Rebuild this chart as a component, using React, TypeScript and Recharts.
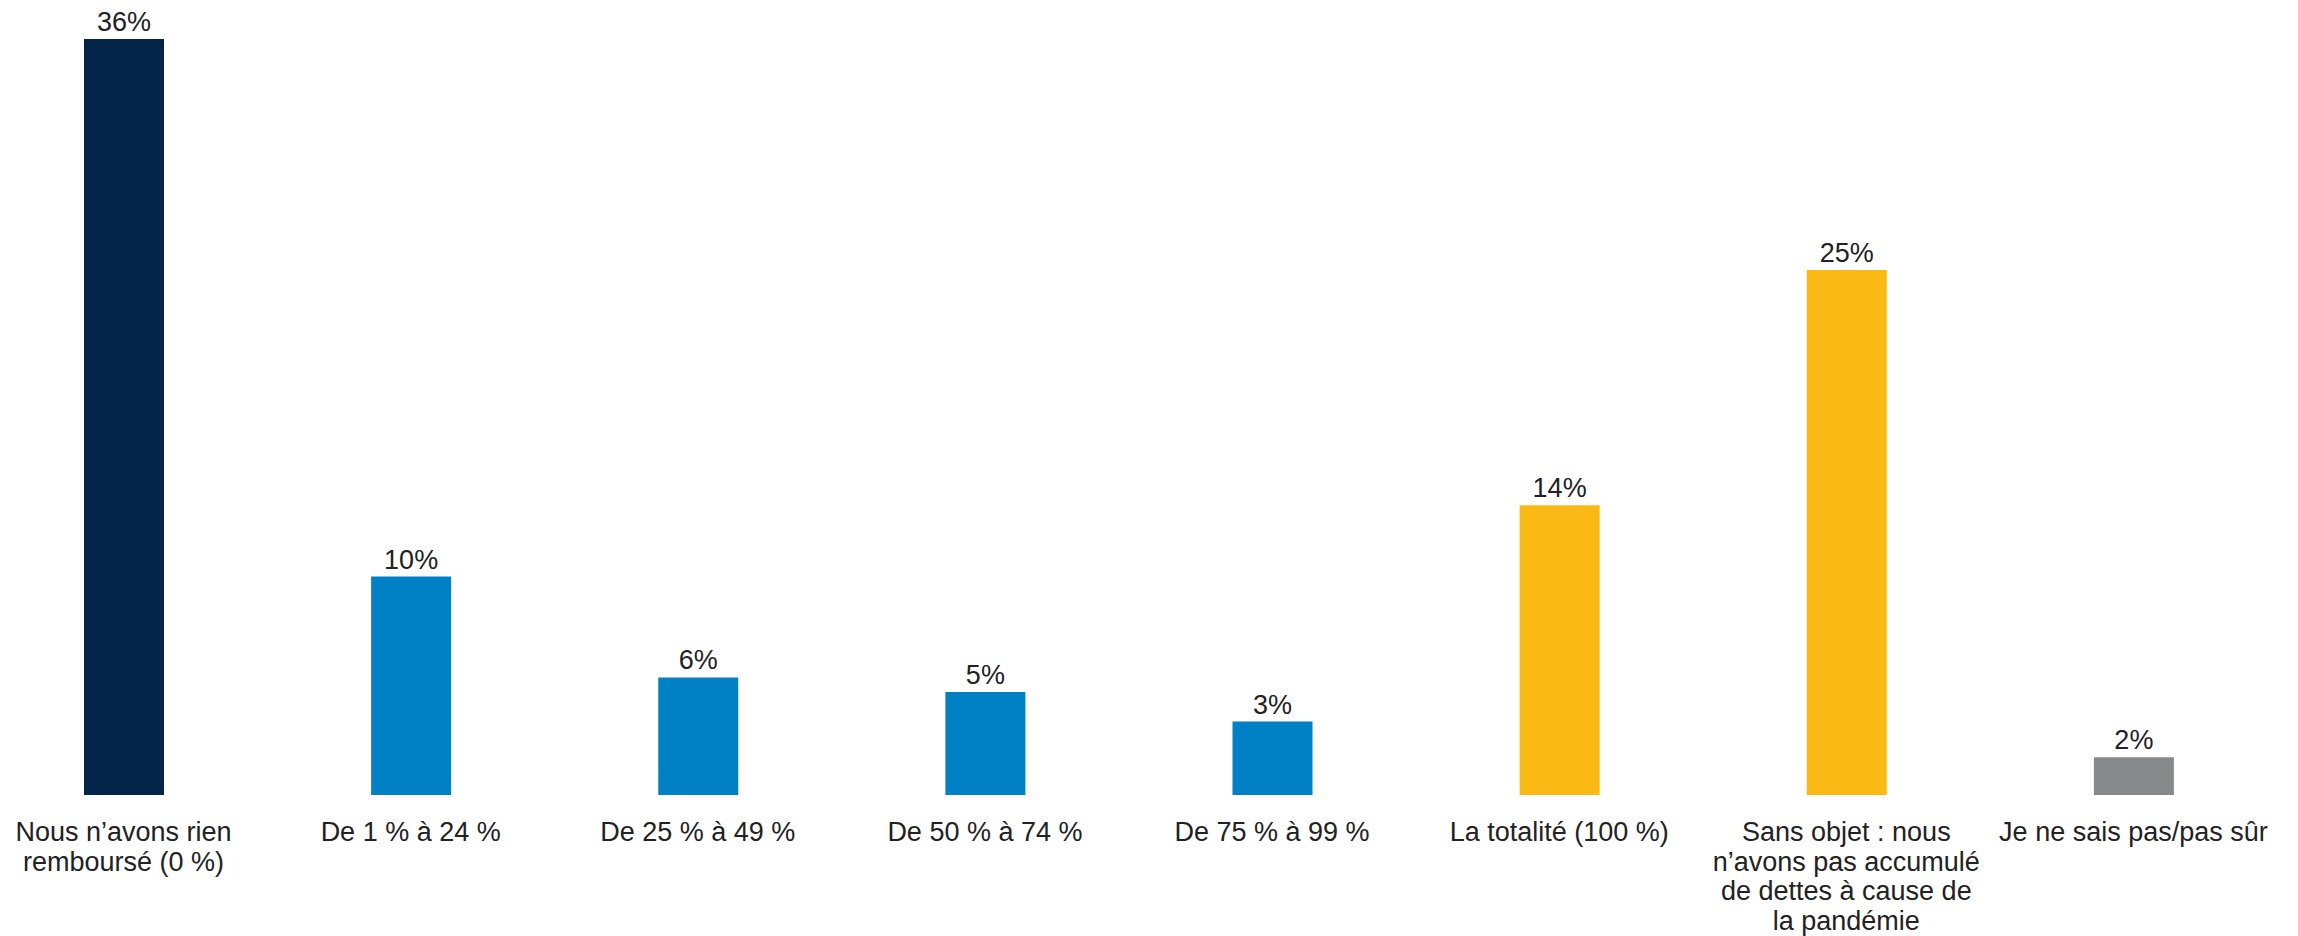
import React from "react";
import { BarChart, Bar, XAxis, YAxis, Cell, LabelList } from "recharts";

const categories = [
  "Nous n’avons rien\nremboursé (0 %)",
  "De 1 % à 24 %",
  "De 25 % à 49 %",
  "De 50 % à 74 %",
  "De 75 % à 99 %",
  "La totalité (100 %)",
  "Sans objet : nous\nn’avons pas accumulé\nde dettes à cause de\nla pandémie",
  "Je ne sais pas/pas sûr",
];
const values = [36, 10.4, 5.6, 4.9, 3.5, 13.8, 25, 1.8];
const valueLabels = ["36%", "10%", "6%", "5%", "3%", "14%", "25%", "2%"];
const barColors = ["#032548", "#0081C6", "#0081C6", "#0081C6", "#0081C6", "#FBB915", "#FBB915", "#868A8B"];

const data = categories.map((c, i) => ({ name: c, value: values[i], label: valueLabels[i] }));

const FONT = "'Liberation Sans', Arial, sans-serif";
const TEXT = "#222222";

const Tick = (props: any) => {
  const { x, y, payload } = props;
  const lines = String(payload.value).split("\n");
  return (
    <text x={x} y={y + 46} textAnchor="middle" fontFamily={FONT} fontSize={27} fill={TEXT}>
      {lines.map((l, i) => (
        <tspan key={i} x={x} dy={i === 0 ? 0 : 29.6}>
          {l}
        </tspan>
      ))}
    </text>
  );
};

export default function App() {
  return (
    <div style={{ position: "absolute", left: -20, top: 0, width: 2297, height: 936 }}>
      <BarChart
        width={2297}
        height={936}
        data={data}
        margin={{ top: 39, right: 0, bottom: 0, left: 0 }}
        barSize={80}
      >
        <XAxis
          dataKey="name"
          interval={0}
          height={141}
          axisLine={false}
          tickLine={false}
          tickSize={0}
          tickMargin={0}
          tick={<Tick />}
        />
        <YAxis hide domain={[0, 36]} />
        <Bar dataKey="value" isAnimationActive={false}>
          {data.map((d, i) => (
            <Cell key={i} fill={barColors[i]} />
          ))}
          <LabelList
            dataKey="label"
            position="top"
            offset={8}
            fontFamily={FONT}
            fontSize={27}
            fill={TEXT}
          />
        </Bar>
      </BarChart>
    </div>
  );
}
